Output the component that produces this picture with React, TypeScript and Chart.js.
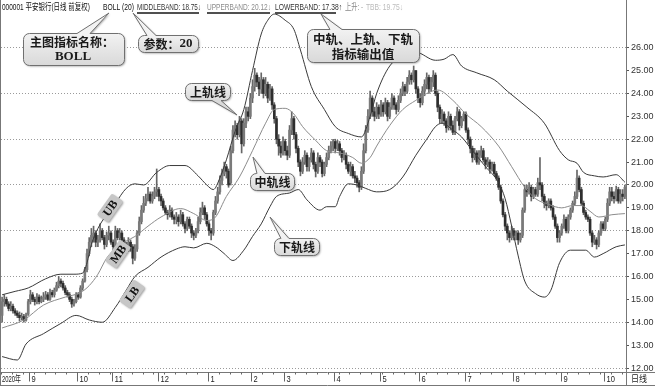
import React, { useEffect, useRef } from 'react';
import { Chart, registerables } from 'chart.js';

Chart.register(...registerables);

// ---------- daily candles (Aug 2020 – Oct 2021) ----------
const opens = [
  14.3, 14.9, 15.0, 14.8, 14.6, 14.7, 14.5, 14.4, 14.3, 14.2,
  14.25, 14.1, 14.35, 14.9, 15.2, 15.0, 14.9, 15.1, 14.9, 15.0,
  15.1, 15.2, 15.0, 15.3, 15.2, 15.4, 15.6, 15.8, 15.7, 15.5,
  15.3, 15.2, 15.0, 14.8, 14.9, 15.2, 15.1, 15.5, 15.8, 16.3,
  17.0, 17.5, 17.7, 17.9, 17.5, 17.6, 18.0, 17.7, 17.4, 17.8,
  17.9, 17.5, 17.3, 18.0, 17.7, 17.9, 17.6, 17.4, 17.2, 17.5,
  17.3, 16.8, 17.2, 17.9, 18.4, 18.9, 19.2, 19.4, 19.6, 19.3,
  19.5, 19.7, 19.8, 19.5, 19.3, 19.0, 18.8, 18.7, 18.9, 18.6,
  18.5, 18.6, 18.4, 18.7, 18.3, 18.1, 18.5, 18.2, 17.9, 17.8,
  18.0, 18.4, 18.8, 19.0, 18.7, 18.3, 18.0, 17.9, 18.8, 19.3,
  19.7, 20.2, 20.5, 20.8, 20.6, 20.1, 21.5, 22.4, 22.6, 22.2,
  22.8, 21.8, 22.7, 23.2, 23.0, 23.8, 24.3, 24.8, 24.5, 24.2,
  24.6, 24.0, 24.4, 23.8, 24.2, 23.5, 22.9, 22.0, 21.7, 21.4,
  21.9, 21.5, 21.3, 22.4, 22.9, 22.2, 21.6, 21.0, 20.6, 21.0,
  21.3, 20.8, 21.1, 21.4, 20.9, 20.6, 21.2, 21.0, 20.5, 20.9,
  21.2, 21.5, 21.7, 21.9, 21.6, 21.8, 21.5, 21.2, 21.3, 20.9,
  20.6, 20.8, 20.4, 20.3, 20.1, 19.9, 20.6, 21.5, 22.4, 23.0,
  23.8, 23.2, 23.0, 23.4, 23.1, 23.5, 23.2, 23.6, 23.0, 23.4,
  23.8, 23.5, 23.3, 23.7, 24.0, 24.3, 24.1, 24.5, 24.8, 24.6,
  25.0, 24.2, 23.8, 23.6, 24.1, 24.4, 24.7, 24.2, 24.5, 24.8,
  24.0, 23.4, 22.9, 23.1, 22.8, 22.5, 23.0, 22.6, 22.3, 22.9,
  23.2, 22.6, 22.9, 23.1, 22.4, 22.0, 21.6, 21.2, 21.4, 21.0,
  21.3, 21.5, 21.1, 20.9, 21.0, 20.7, 20.9, 20.5, 20.3, 19.9,
  19.3, 18.7, 18.2, 17.9, 17.7, 18.0, 17.8, 17.9, 17.6, 17.8,
  18.9, 19.8, 19.7, 19.9, 19.5, 19.8, 19.6, 20.1, 20.0, 19.5,
  19.2, 19.1, 19.3, 19.0, 18.6, 18.2, 17.7, 17.9, 18.2, 18.5,
  18.0, 18.6, 18.9, 19.2, 19.5, 20.3, 19.8, 19.2, 18.8, 18.6,
  18.5, 17.9, 17.5, 17.6, 17.4, 17.9, 18.3, 18.1, 18.5, 19.2,
  19.7, 19.5, 19.4, 19.8, 19.3, 19.6, 19.5,
];
const highs = [
  15.1, 15.2, 15.1, 14.9, 14.9, 14.8, 14.6, 14.5, 14.45, 14.4,
  14.35, 14.4, 15.0, 15.4, 15.3, 15.1, 15.25, 15.2, 15.15, 15.3,
  15.35, 15.3, 15.45, 15.4, 15.5, 15.75, 16.0, 15.9, 15.8, 15.6,
  15.4, 15.3, 15.1, 15.0, 15.3, 15.3, 15.6, 15.9, 16.4, 17.2,
  17.7, 18.1, 18.2, 18.0, 17.8, 18.3, 18.1, 17.8, 17.95, 18.2,
  18.0, 17.6, 18.2, 18.1, 18.1, 18.0, 17.7, 17.5, 17.7, 17.6,
  17.4, 17.4, 18.0, 18.6, 19.1, 19.5, 19.6, 19.9, 19.7, 19.7,
  19.9, 20.7, 19.9, 19.6, 19.4, 19.1, 18.9, 19.1, 19.0, 18.7,
  18.8, 18.7, 18.9, 18.8, 18.4, 18.6, 18.6, 18.3, 18.0, 18.1,
  18.6, 19.0, 19.25, 19.1, 18.8, 18.4, 18.1, 18.9, 19.5, 19.9,
  20.4, 20.7, 21.0, 20.9, 20.7, 21.7, 22.6, 22.8, 22.7, 23.0,
  22.9, 22.9, 23.4, 23.4, 24.0, 24.6, 25.1, 24.9, 24.7, 24.9,
  24.7, 24.7, 24.5, 24.4, 24.3, 23.6, 23.0, 22.2, 21.9, 22.1,
  22.0, 21.7, 22.6, 23.2, 23.0, 22.3, 21.7, 21.1, 21.2, 21.5,
  21.4, 21.2, 21.6, 21.5, 21.0, 21.4, 21.3, 21.1, 21.0, 21.4,
  21.7, 21.9, 22.0, 22.0, 21.95, 21.9, 21.6, 21.5, 21.4, 21.0,
  21.0, 20.9, 20.6, 20.4, 20.2, 20.8, 21.8, 22.6, 23.3, 24.1,
  23.9, 23.4, 23.6, 23.5, 23.7, 23.6, 23.8, 23.7, 23.6, 24.0,
  23.9, 23.6, 23.9, 24.2, 24.5, 24.4, 24.7, 25.0, 24.9, 25.2,
  25.0, 24.3, 24.0, 24.3, 24.6, 24.9, 24.8, 24.7, 25.0, 24.9,
  24.1, 23.5, 23.3, 23.2, 22.9, 23.2, 23.1, 22.8, 23.0, 23.4,
  23.3, 23.0, 23.2, 23.2, 22.5, 22.1, 21.7, 21.6, 21.5, 21.5,
  21.7, 21.6, 21.2, 21.2, 21.1, 21.0, 21.0, 20.6, 20.4, 20.0,
  19.4, 18.8, 18.3, 18.0, 18.2, 18.1, 18.0, 18.0, 17.9, 19.0,
  20.0, 20.0, 20.1, 20.0, 19.9, 19.9, 20.3, 21.2, 20.1, 19.6,
  19.3, 19.4, 19.4, 19.1, 18.7, 18.3, 18.0, 18.3, 18.7, 18.6,
  18.7, 19.0, 19.3, 19.7, 20.65, 20.4, 19.9, 19.3, 18.9, 18.7,
  18.6, 18.0, 17.8, 17.7, 18.0, 18.4, 18.4, 18.6, 19.4, 19.9,
  19.9, 19.7, 19.95, 19.9, 19.8, 19.8, 20.0,
];
const lows = [
  14.0, 14.7, 14.7, 14.5, 14.5, 14.4, 14.3, 14.2, 14.05, 14.1,
  14.0, 14.05, 14.3, 14.8, 14.9, 14.75, 14.8, 14.8, 14.85, 14.9,
  15.0, 14.95, 14.95, 15.1, 15.1, 15.35, 15.5, 15.55, 15.4, 15.2,
  15.1, 14.9, 14.65, 14.7, 14.85, 15.0, 15.05, 15.4, 15.75, 16.2,
  16.9, 17.3, 17.5, 17.3, 17.3, 17.5, 17.6, 17.2, 17.3, 17.6,
  17.4, 17.1, 17.2, 17.6, 17.6, 17.5, 17.3, 17.0, 17.1, 17.1,
  16.55, 16.7, 17.1, 17.8, 18.3, 18.8, 19.1, 19.3, 19.2, 19.2,
  19.4, 19.5, 19.3, 19.1, 18.9, 18.7, 18.5, 18.6, 18.5, 18.3,
  18.3, 18.2, 18.3, 18.2, 17.9, 18.0, 18.1, 17.7, 17.6, 17.7,
  17.9, 18.3, 18.7, 18.5, 18.2, 17.8, 17.6, 17.8, 18.7, 19.2,
  19.6, 20.0, 20.4, 20.3, 19.9, 20.0, 21.4, 22.1, 22.0, 22.1,
  21.4, 21.7, 22.5, 22.8, 22.9, 23.6, 24.1, 24.3, 23.9, 24.0,
  23.8, 23.9, 23.6, 23.7, 23.3, 22.7, 21.8, 21.3, 21.2, 21.3,
  21.3, 21.1, 21.2, 22.2, 22.0, 21.4, 20.8, 20.4, 20.5, 20.9,
  20.6, 20.6, 21.0, 20.7, 20.35, 20.5, 20.8, 20.35, 20.4, 20.8,
  21.1, 21.4, 21.5, 21.4, 21.5, 21.3, 21.0, 21.1, 20.7, 20.5,
  20.4, 20.3, 20.1, 19.9, 19.7, 19.8, 20.5, 21.4, 22.3, 22.9,
  23.0, 22.8, 22.9, 22.9, 23.0, 23.0, 23.1, 22.8, 22.9, 23.3,
  23.3, 23.1, 23.2, 23.6, 23.9, 23.9, 24.0, 24.4, 24.4, 24.5,
  24.0, 23.6, 23.4, 23.5, 23.9, 24.2, 24.0, 24.1, 24.3, 23.9,
  23.2, 22.7, 22.7, 22.6, 22.3, 22.4, 22.4, 22.2, 22.2, 22.8,
  22.4, 22.5, 22.8, 22.3, 21.8, 21.4, 21.0, 21.1, 20.9, 20.9,
  21.2, 21.0, 20.7, 20.8, 20.5, 20.6, 20.4, 20.2, 19.8, 19.2,
  18.6, 18.0, 17.6, 17.5, 17.6, 17.6, 17.6, 17.4, 17.5, 17.7,
  18.8, 19.5, 19.6, 19.3, 19.4, 19.5, 19.5, 19.8, 19.3, 19.0,
  18.9, 19.0, 18.9, 18.5, 18.1, 17.5, 17.5, 17.8, 18.1, 17.9,
  17.9, 18.5, 18.8, 19.1, 19.4, 19.7, 19.1, 18.7, 18.5, 18.4,
  17.8, 17.3, 17.4, 17.2, 17.3, 17.8, 18.0, 18.0, 18.4, 19.1,
  19.3, 19.2, 19.3, 19.2, 19.2, 19.3, 19.4,
];
const closes = [
  14.9, 15.0, 14.8, 14.6, 14.7, 14.5, 14.4, 14.3, 14.2, 14.25,
  14.1, 14.3, 14.9, 15.2, 15.0, 14.9, 15.1, 14.9, 15.0, 15.1,
  15.2, 15.0, 15.3, 15.2, 15.4, 15.6, 15.8, 15.7, 15.5, 15.3,
  15.2, 15.0, 14.8, 14.9, 15.2, 15.1, 15.5, 15.8, 16.3, 17.0,
  17.5, 17.8, 17.9, 17.5, 17.6, 18.0, 17.7, 17.4, 17.8, 17.9,
  17.5, 17.3, 18.0, 17.7, 17.9, 17.6, 17.4, 17.2, 17.5, 17.3,
  16.8, 17.2, 17.9, 18.4, 18.9, 19.2, 19.4, 19.6, 19.3, 19.5,
  19.7, 19.8, 19.5, 19.3, 19.0, 18.8, 18.7, 18.9, 18.6, 18.5,
  18.6, 18.4, 18.7, 18.3, 18.1, 18.5, 18.2, 17.9, 17.8, 18.0,
  18.4, 18.8, 19.0, 18.7, 18.3, 18.0, 17.9, 18.8, 19.3, 19.7,
  20.2, 20.5, 20.8, 20.6, 20.0, 21.5, 22.4, 22.6, 22.2, 22.8,
  21.8, 22.7, 23.2, 23.0, 23.8, 24.3, 24.8, 24.5, 24.2, 24.6,
  24.0, 24.4, 23.8, 24.2, 23.5, 22.9, 22.0, 21.7, 21.4, 21.9,
  21.5, 21.3, 22.4, 22.9, 22.2, 21.6, 21.0, 20.6, 21.0, 21.3,
  20.8, 21.1, 21.4, 20.9, 20.6, 21.2, 21.0, 20.5, 20.9, 21.2,
  21.5, 21.7, 21.9, 21.6, 21.8, 21.5, 21.2, 21.3, 20.9, 20.6,
  20.8, 20.4, 20.3, 20.1, 19.9, 20.6, 21.5, 22.4, 23.0, 23.8,
  23.2, 23.0, 23.4, 23.1, 23.5, 23.2, 23.6, 23.0, 23.4, 23.8,
  23.5, 23.3, 23.7, 24.0, 24.3, 24.1, 24.5, 24.8, 24.6, 25.0,
  24.2, 23.8, 23.6, 24.1, 24.4, 24.7, 24.2, 24.5, 24.8, 24.0,
  23.4, 22.9, 23.1, 22.8, 22.5, 23.0, 22.6, 22.3, 22.9, 23.2,
  22.6, 22.9, 23.1, 22.4, 22.0, 21.6, 21.2, 21.4, 21.0, 21.3,
  21.5, 21.1, 20.9, 21.0, 20.7, 20.9, 20.5, 20.3, 19.9, 19.3,
  18.7, 18.2, 17.9, 17.7, 18.0, 17.8, 17.9, 17.6, 17.8, 18.9,
  19.8, 19.7, 19.9, 19.5, 19.8, 19.6, 20.1, 20.0, 19.5, 19.2,
  19.1, 19.3, 19.0, 18.6, 18.2, 17.7, 17.9, 18.2, 18.5, 18.0,
  18.6, 18.9, 19.2, 19.5, 20.3, 19.8, 19.2, 18.8, 18.6, 18.5,
  17.9, 17.5, 17.6, 17.4, 17.9, 18.3, 18.1, 18.5, 19.2, 19.7,
  19.5, 19.4, 19.8, 19.3, 19.6, 19.5, 19.9,
];

// ---------- Bollinger band lines (day index, value) ----------
const ubDays = [0, 6, 12, 20, 27, 33, 37, 39, 41, 44, 48, 52, 57, 61, 65, 71, 77, 84, 90, 94, 97, 100, 103, 107, 111, 115, 119, 122, 125, 130, 134, 137, 142, 148, 153, 159, 165, 169, 172, 178, 184, 190, 199, 203, 207, 211, 218, 226, 232, 241, 249, 256, 260, 264, 267, 272, 276, 282, 286];
const ubValues = [15.2, 15.35, 15.5, 15.9, 16.1, 16.1, 16.15, 16.6, 17.4, 18.1, 18.7, 19.2, 19.85, 20.05, 20.0, 20.55, 20.85, 20.85, 20.4, 20.0, 19.8, 20.3, 21.1, 22.35, 23.3, 25.0, 26.6, 27.2, 27.47, 27.2, 26.8, 25.9, 24.3, 23.3, 22.55, 22.25, 22.1, 23.0, 24.0, 25.2, 25.6, 25.8, 25.45, 25.5, 25.7, 25.2, 24.9, 24.6, 24.1, 23.4, 22.7, 21.5, 21.1, 20.95, 20.55, 20.4, 20.35, 20.45, 20.12];

const mbDays = [0, 10, 19, 29, 36, 40, 44, 48, 53, 57, 61, 67, 73, 82, 88, 94, 98, 103, 109, 115, 121, 125, 130, 134, 138, 144, 149, 155, 161, 165, 169, 172, 178, 184, 190, 195, 200, 207, 213, 220, 228, 234, 240, 245, 251, 257, 262, 266, 270, 274, 280, 286];
const mbValues = [13.75, 14.1, 14.75, 15.1, 15.3, 15.6, 16.1, 16.8, 17.3, 17.55, 17.75, 18.2, 18.6, 18.97, 18.75, 18.45, 18.6, 19.5, 20.35, 21.5, 22.7, 23.3, 23.35, 23.1, 22.55, 21.95, 21.5, 21.4, 21.2, 20.95, 21.2, 21.7, 22.6, 23.3, 23.7, 24.0, 24.15, 23.7, 23.1, 22.55, 21.7, 20.8, 19.9, 19.4, 19.15, 19.0, 19.1, 19.1, 18.85, 18.6, 18.7, 18.75];

const lbDays = [0, 7, 11, 19, 27, 34, 40, 46, 52, 57, 61, 67, 73, 80, 84, 88, 94, 98, 102, 106, 111, 115, 119, 123, 126, 132, 136, 140, 146, 149, 153, 155, 159, 163, 167, 172, 178, 184, 190, 195, 199, 202, 207, 211, 216, 222, 228, 231, 234, 237, 240, 245, 249, 252, 256, 261, 268, 272, 276, 282, 286];
const lbValues = [12.5, 12.35, 13.05, 13.5, 13.95, 14.3, 14.1, 14.0, 14.65, 15.4, 16.0, 16.4, 16.85, 17.2, 17.3, 17.25, 17.45, 17.3, 17.0, 16.7, 17.15, 17.75, 18.3, 19.05, 19.5, 19.65, 19.8, 19.35, 18.9, 19.05, 19.05, 19.5, 20.05, 20.0, 19.85, 19.7, 19.8, 20.35, 21.3, 22.0, 22.55, 22.7, 22.4, 22.1, 21.5, 20.8, 20.1, 19.4, 18.2, 16.9, 15.8, 15.25, 15.1, 15.4, 16.6, 17.15, 17.15, 16.85, 17.0, 17.3, 17.38];

// ---------- axes ----------
const yTickValues = [12, 13, 14, 15, 16, 17, 18, 19, 20, 21, 22, 23, 24, 25, 26];
const monthStartDays = [0, 13, 35, 51, 72, 95, 115, 130, 153, 174, 192, 213, 235, 257, 277];
const monthLabels = ['2020年', '9', '10', '11', '12', '1', '2', '3', '4', '5', '6', '7', '8', '9', '10'];
const periodLabel = '日线';

// ---------- texts ----------
const headerTitle = '000001 平安银行(日线 前复权)';
const headerBoll = 'BOLL (20)';
const headerMid = 'MIDDLEBAND: 18.75↓';
const headerUp = 'UPPERBAND: 20.12↓';
const headerLow = 'LOWERBAND: 17.38↑';
const headerRise = '上升: -';
const headerTbb = 'TBB: 19.75↓';
const noteName = ['主图指标名称：', 'BOLL'];
const noteParam = ['参数：', '20'];
const noteOutput = ['中轨、上轨、下轨', '指标输出值'];
const noteUpper = '上轨线';
const noteMiddle = '中轨线';
const noteLower = '下轨线';
const bandTags = ['UB', 'MB', 'LB'];

const CJK = '"Noto Sans CJK SC", "Noto Sans", sans-serif';
const SERIF = '"Liberation Serif", "DejaVu Serif", serif';
const SANS = '"Liberation Sans", Arial, "Noto Sans CJK SC", sans-serif';

function calloutPath(ctx: CanvasRenderingContext2D, x: number, y: number, w: number, h: number, r: number,
  edge: 'top' | 'bottom', b1: number, b2: number, tx: number, ty: number) {
  ctx.beginPath();
  ctx.moveTo(x + r, y);
  if (edge === 'top') { ctx.lineTo(b1, y); ctx.lineTo(tx, ty); ctx.lineTo(b2, y); }
  ctx.lineTo(x + w - r, y);
  ctx.arcTo(x + w, y, x + w, y + r, r);
  ctx.lineTo(x + w, y + h - r);
  ctx.arcTo(x + w, y + h, x + w - r, y + h, r);
  if (edge === 'bottom') { ctx.lineTo(b2, y + h); ctx.lineTo(tx, ty); ctx.lineTo(b1, y + h); }
  ctx.lineTo(x + r, y + h);
  ctx.arcTo(x, y + h, x, y + h - r, r);
  ctx.lineTo(x, y + r);
  ctx.arcTo(x, y, x + r, y, r);
  ctx.closePath();
}

function drawBox(ctx: CanvasRenderingContext2D, x: number, y: number, w: number, h: number,
  edge: 'top' | 'bottom', b1: number, b2: number, tx: number, ty: number) {
  ctx.save();
  calloutPath(ctx, x, y, w, h, 6, edge, b1, b2, tx, ty);
  ctx.shadowColor = 'rgba(0,0,0,0.35)';
  ctx.shadowBlur = 2;
  ctx.shadowOffsetX = 1;
  ctx.shadowOffsetY = 1;
  const g = ctx.createLinearGradient(0, y, 0, y + h);
  g.addColorStop(0, '#f2f2f2');
  g.addColorStop(1, '#d9d9d9');
  ctx.fillStyle = g;
  ctx.fill();
  ctx.shadowColor = 'rgba(0,0,0,0)';
  ctx.strokeStyle = '#707070';
  ctx.lineWidth = 1;
  ctx.stroke();
  ctx.restore();
}

function drawMixed(ctx: CanvasRenderingContext2D, parts: [string, string][], cx: number, cy: number) {
  ctx.save();
  ctx.textBaseline = 'middle';
  ctx.textAlign = 'left';
  ctx.fillStyle = '#1a1a1a';
  let total = 0;
  const widths = parts.map(([t, f]) => { ctx.font = f; const w = ctx.measureText(t).width; total += w; return w; });
  let x = cx - total / 2;
  parts.forEach(([t, f], i) => { ctx.font = f; ctx.fillText(t, x, cy); x += widths[i]; });
  ctx.restore();
}

const overlayPlugin = {
  id: 'overlay',
  beforeDraw(chart: any) {
    const ctx = chart.ctx as CanvasRenderingContext2D;
    ctx.save();
    ctx.fillStyle = '#ffffff';
    ctx.fillRect(0, 0, chart.width, chart.height);
    ctx.restore();
  },
  afterDraw(chart: any) {
    const ctx = chart.ctx as CanvasRenderingContext2D;
    const xs = chart.scales.x;
    const area = chart.chartArea;
    const W = chart.width;
    const H = chart.height;
    ctx.save();

    // frame
    ctx.strokeStyle = '#777';
    ctx.lineWidth = 1;
    ctx.beginPath();
    ctx.moveTo(0.5, 0); ctx.lineTo(0.5, H);
    ctx.moveTo(Math.round(area.right) + 0.5, 0); ctx.lineTo(Math.round(area.right) + 0.5, H);
    ctx.moveTo(0, Math.round(area.bottom) + 0.5); ctx.lineTo(W, Math.round(area.bottom) + 0.5);
    ctx.moveTo(0, H - 0.5); ctx.lineTo(W, H - 0.5);
    ctx.stroke();

    // x axis: minor ticks, month ticks and labels
    const yb = Math.round(area.bottom) + 0.5;
    ctx.strokeStyle = '#666';
    ctx.beginPath();
    for (let d = 0; d < closes.length; d += 5) {
      const px = Math.round(xs.getPixelForValue(d - 0.5)) + 0.5;
      ctx.moveTo(px, yb); ctx.lineTo(px, yb + 2);
    }
    ctx.stroke();
    ctx.font = '9px ' + SANS;
    ctx.fillStyle = '#222';
    ctx.textBaseline = 'alphabetic';
    monthStartDays.forEach((d, i) => {
      const px = Math.round(xs.getPixelForValue(d - 0.5)) + 0.5;
      if (i > 0) {
        ctx.beginPath();
        ctx.moveTo(px, yb); ctx.lineTo(px, yb + 9);
        ctx.stroke();
        ctx.fillText(monthLabels[i], px + 2, H - 4, monthLabels[i].length * 4.2);
      } else {
        ctx.fillText(monthLabels[i], 2, H - 4, 19);
      }
    });
    ctx.fillText(periodLabel, area.right + 5, H - 4, 16);

    // header line
    ctx.textBaseline = 'alphabetic';
    ctx.font = '9px ' + SANS;
    const hy = 10;
    ctx.fillStyle = '#111';
    ctx.fillText(headerTitle, 2, hy, 88);
    ctx.fillText(headerBoll, 103, hy, 31);
    ctx.fillStyle = '#333';
    ctx.fillText(headerMid, 137, hy, 64);
    ctx.fillStyle = '#8c8c8c';
    ctx.fillText(headerUp, 207, hy, 64);
    ctx.fillStyle = '#333';
    ctx.fillText(headerLow, 275, hy, 67);
    ctx.fillStyle = '#888';
    ctx.fillText(headerRise, 345, hy, 18);
    ctx.fillStyle = '#bbb';
    ctx.fillText(headerTbb, 366, hy, 37);
    ctx.fillStyle = '#505050';
    ctx.fillRect(137, 12, 62, 2);
    ctx.fillRect(207, 12, 63, 2);
    ctx.fillRect(275, 12, 61, 2);

    // callouts
    const cjk12 = 'bold 12px ' + CJK;
    const serif13 = 'bold 13px ' + SERIF;
    drawBox(ctx, 23.5, 33.5, 101, 32, 'top', 77, 90, 109, 13);
    drawMixed(ctx, [[noteName[0], cjk12]], 72, 42);
    drawMixed(ctx, [[noteName[1], serif13]], 73, 57);

    drawBox(ctx, 138.5, 35.5, 60, 17, 'top', 147, 156, 133, 13);
    drawMixed(ctx, [[noteParam[0], cjk12], [noteParam[1], serif13]], 168, 44);

    drawBox(ctx, 307.5, 29.5, 112, 33, 'top', 330, 342, 321, 14);
    drawMixed(ctx, [[noteOutput[0], 'bold 12.5px ' + CJK]], 363, 39);
    drawMixed(ctx, [[noteOutput[1], 'bold 12.5px ' + CJK]], 363, 54);

    drawBox(ctx, 185.5, 83.5, 45, 17, 'bottom', 212, 221, 237, 115);
    drawMixed(ctx, [[noteUpper, cjk12]], 208, 92);

    drawBox(ctx, 250.5, 173.5, 44, 17, 'top', 257, 265, 253, 157);
    drawMixed(ctx, [[noteMiddle, cjk12]], 272.5, 182);

    drawBox(ctx, 274.5, 238.5, 45, 17, 'top', 281, 289, 270, 217);
    drawMixed(ctx, [[noteLower, cjk12]], 297, 247);

    // rotated band tags
    const tagPos = [[110, 208], [118, 254], [132, 294]];
    bandTags.forEach((t, i) => {
      ctx.save();
      ctx.translate(tagPos[i][0], tagPos[i][1]);
      ctx.rotate(-0.95);
      ctx.shadowColor = 'rgba(0,0,0,0.35)';
      ctx.shadowBlur = 2;
      ctx.shadowOffsetX = 1;
      ctx.shadowOffsetY = 1;
      ctx.fillStyle = '#c6c6c6';
      ctx.beginPath();
      ctx.roundRect(-13, -7, 26, 14, 2);
      ctx.fill();
      ctx.shadowColor = 'rgba(0,0,0,0)';
      ctx.fillStyle = '#111';
      ctx.font = 'bold 12px ' + SERIF;
      ctx.textAlign = 'center';
      ctx.textBaseline = 'middle';
      ctx.fillText(t, 0, 1);
      ctx.restore();
    });

    ctx.restore();
  },
};

export default function App() {
  const ref = useRef<HTMLCanvasElement>(null);
  useEffect(() => {
    document.body.style.margin = '0';
    const canvas = ref.current;
    if (!canvas) return;
    const days = closes.map((_, i) => i);
    const toPts = (ds: number[], vs: number[]) => ds.map((d, i) => ({ x: d, y: vs[i] }));
    const lineBase = { type: 'line' as const, borderWidth: 1, pointRadius: 0, cubicInterpolationMode: 'monotone' as const, fill: false };
    const chart = new Chart(canvas, {
      type: 'bar',
      data: {
        datasets: [
          { ...lineBase, label: 'UB', data: toPts(ubDays, ubValues), borderColor: '#3a3a3a', order: 0 } as any,
          { ...lineBase, label: 'MB', data: toPts(mbDays, mbValues), borderColor: '#8c8c8c', order: 0 } as any,
          { ...lineBase, label: 'LB', data: toPts(lbDays, lbValues), borderColor: '#3a3a3a', order: 0 } as any,
          {
            type: 'bar', label: 'wick', data: days.map((i) => ({ x: i, y: [lows[i], highs[i]] })),
            backgroundColor: '#666666', barThickness: 1, grouped: false, order: 2,
          } as any,
          {
            type: 'bar', label: 'body', data: days.map((i) => ({ x: i, y: [opens[i], closes[i]] })),
            backgroundColor: days.map((i) => (closes[i] >= opens[i] ? '#7a7a7a' : '#2e2e2e')),
            barThickness: 2, grouped: false, minBarLength: 1, order: 1,
          } as any,
        ],
      },
      options: {
        responsive: false,
        animation: false,
        devicePixelRatio: 1,
        events: [],
        layout: { padding: { top: 10, left: 1, right: 0, bottom: 0 } },
        plugins: { legend: { display: false }, tooltip: { enabled: false } },
        scales: {
          x: {
            type: 'linear', min: -0.5, max: 286.5, offset: false,
            ticks: { display: false },
            grid: { display: false, offset: false },
            border: { display: false },
            afterFit: (s: any) => { s.height = 14; },
          },
          y: {
            type: 'linear', position: 'right', min: 11.826, max: 27.648,
            afterBuildTicks: (s: any) => { s.ticks = yTickValues.map((v) => ({ value: v })); },
            afterFit: (s: any) => { s.width = 29; },
            ticks: {
              callback: (v: any) => Number(v).toFixed(2),
              font: { size: 9, family: SANS }, color: '#333', padding: 2,
            },
            grid: {
              color: (c: any) => (c.tick && c.tick.value % 2 === 0 ? '#9a9a9a' : 'rgba(0,0,0,0)'),
              tickColor: '#555', tickLength: 3, lineWidth: 1,
            },
            border: { display: true, color: '#777', dash: [1, 2] },
          },
        },
      } as any,
      plugins: [overlayPlugin],
    });
    return () => chart.destroy();
  }, []);
  return <canvas ref={ref} width={655} height={386} style={{ display: 'block' }} />;
}
